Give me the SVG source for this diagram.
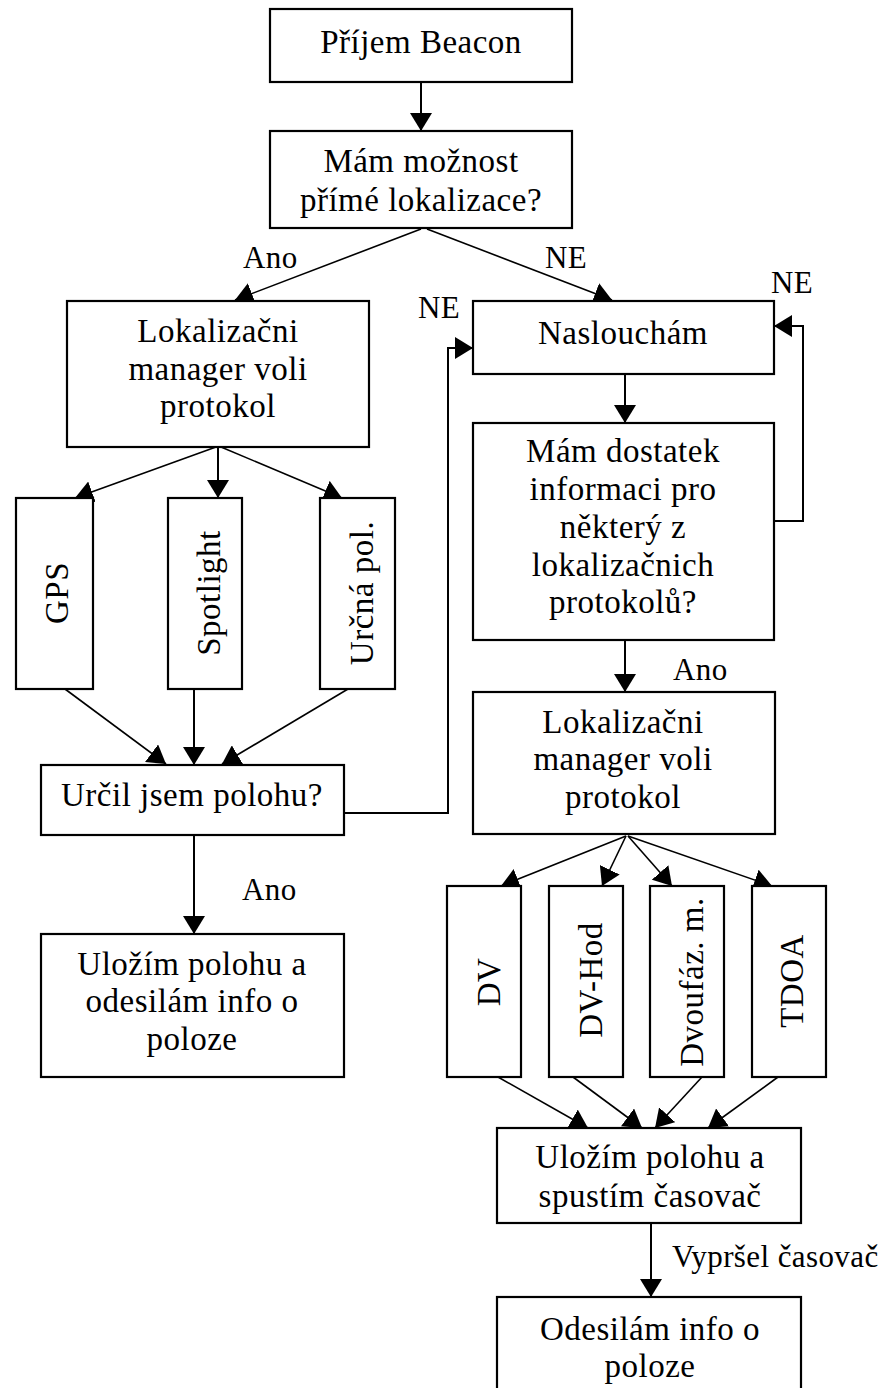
<svg xmlns="http://www.w3.org/2000/svg" width="883" height="1388" viewBox="0 0 883 1388">
<style>
.box{fill:#fff;stroke:#000;stroke-width:2.2}
.t{font-family:"Liberation Serif","Times New Roman",serif;font-size:33px;letter-spacing:0.5px;fill:#000;text-anchor:middle}
.lbl{font-family:"Liberation Serif","Times New Roman",serif;font-size:31px;letter-spacing:0.4px;fill:#000}
.c{fill:none;stroke:#000;stroke-width:2}
.d{fill:none;stroke:#000;stroke-width:1.6}
</style>
<defs>
<marker id="ah" viewBox="0 0 18 22" markerWidth="18" markerHeight="22" refX="18" refY="11" orient="auto" markerUnits="userSpaceOnUse">
<path d="M0,0 L18,11 L0,22 z" fill="#000"/>
</marker>
</defs>
<rect width="883" height="1388" fill="#fff"/>
<g id="connectors">
<path class="c" d="M421,82 L421,131" marker-end="url(#ah)"/>
<path class="d" d="M421,229 L235,300" marker-end="url(#ah)"/>
<path class="d" d="M427,229 L612,300" marker-end="url(#ah)"/>
<path class="d" d="M216,447 L75,498" marker-end="url(#ah)"/>
<path class="c" d="M218,447 L218,498" marker-end="url(#ah)"/>
<path class="d" d="M221,447 L342,498" marker-end="url(#ah)"/>
<path class="d" d="M65,689 L166,764" marker-end="url(#ah)"/>
<path class="c" d="M194,689 L194,765" marker-end="url(#ah)"/>
<path class="d" d="M348,689 L222,764" marker-end="url(#ah)"/>
<path class="c" d="M344,813 L448,813 L448,348 L473,348" marker-end="url(#ah)"/>
<path class="c" d="M194,835 L194,934" marker-end="url(#ah)"/>
<path class="c" d="M625,374 L625,423" marker-end="url(#ah)"/>
<path class="c" d="M774,521 L803,521 L803,326 L774,326" marker-end="url(#ah)"/>
<path class="c" d="M625,640 L625,692" marker-end="url(#ah)"/>
<path class="d" d="M626,836 L501,886" marker-end="url(#ah)"/>
<path class="d" d="M626,836 L602,886" marker-end="url(#ah)"/>
<path class="d" d="M628,836 L672,886" marker-end="url(#ah)"/>
<path class="d" d="M628,836 L772,886" marker-end="url(#ah)"/>
<path class="d" d="M498,1077 L588,1128" marker-end="url(#ah)"/>
<path class="d" d="M573,1077 L642,1128" marker-end="url(#ah)"/>
<path class="d" d="M702,1077 L655,1128" marker-end="url(#ah)"/>
<path class="d" d="M778,1077 L708,1128" marker-end="url(#ah)"/>
<path class="c" d="M651,1223 L651,1297" marker-end="url(#ah)"/>
</g>
<g id="labels">
<text class="lbl" x="243" y="268">Ano</text>
<text class="lbl" x="545" y="268">NE</text>
<text class="lbl" x="418" y="318">NE</text>
<text class="lbl" x="771" y="293">NE</text>
<text class="lbl" x="673" y="680">Ano</text>
<text class="lbl" x="242" y="900">Ano</text>
<text class="lbl" x="672" y="1267">Vypršel časovač</text>
</g>
<g id="n1"><rect class="box" x="270" y="9" width="302" height="73"/><text class="t" x="421" y="53">Příjem Beacon</text></g>
<g id="n2"><rect class="box" x="270" y="131" width="302" height="97"/><text class="t" x="421" y="172">Mám možnost</text><text class="t" x="421" y="211">přímé lokalizace?</text></g>
<g id="n3"><rect class="box" x="67" y="301" width="302" height="146"/><text class="t" x="218" y="342">Lokalizačni</text><text class="t" x="218" y="380">manager voli</text><text class="t" x="218" y="417">protokol</text></g>
<g id="n4"><rect class="box" x="16" y="498" width="77" height="191"/><text class="t" transform="translate(68,593) rotate(-90)">GPS</text></g>
<g id="n5"><rect class="box" x="168" y="498" width="74" height="191"/><text class="t" transform="translate(220,593) rotate(-90)">Spotlight</text></g>
<g id="n6"><rect class="box" x="320" y="498" width="75" height="191"/><text class="t" transform="translate(373,593) rotate(-90)">Určná pol.</text></g>
<g id="n7"><rect class="box" x="41" y="765" width="303" height="70"/><text class="t" x="192" y="806">Určil jsem polohu?</text></g>
<g id="n8"><rect class="box" x="41" y="934" width="303" height="143"/><text class="t" x="192" y="975">Uložím polohu a</text><text class="t" x="192" y="1012">odesilám info o</text><text class="t" x="192" y="1050">poloze</text></g>
<g id="n9"><rect class="box" x="473" y="301" width="301" height="73"/><text class="t" x="623" y="344">Naslouchám</text></g>
<g id="n10"><rect class="box" x="473" y="423" width="301" height="217"/><text class="t" x="623" y="462">Mám dostatek</text><text class="t" x="623" y="500">informaci pro</text><text class="t" x="623" y="538">některý z</text><text class="t" x="623" y="576">lokalizačnich</text><text class="t" x="623" y="613">protokolů?</text></g>
<g id="n11"><rect class="box" x="473" y="692" width="302" height="142"/><text class="t" x="623" y="733">Lokalizačni</text><text class="t" x="623" y="770">manager voli</text><text class="t" x="623" y="808">protokol</text></g>
<g id="n12"><rect class="box" x="447" y="886" width="74" height="191"/><text class="t" transform="translate(500,982) rotate(-90)">DV</text></g>
<g id="n13"><rect class="box" x="549" y="886" width="74" height="191"/><text class="t" transform="translate(602,980) rotate(-90)">DV-Hod</text></g>
<g id="n14"><rect class="box" x="650" y="886" width="74" height="191"/><text class="t" transform="translate(703,982) rotate(-90)">Dvoufáz. m.</text></g>
<g id="n15"><rect class="box" x="752" y="886" width="74" height="191"/><text class="t" transform="translate(803,981) rotate(-90)">TDOA</text></g>
<g id="n16"><rect class="box" x="497" y="1128" width="304" height="95"/><text class="t" x="650" y="1168">Uložím polohu a</text><text class="t" x="650" y="1207">spustím časovač</text></g>
<g id="n17"><rect class="box" x="497" y="1297" width="304" height="100"/><text class="t" x="650" y="1340">Odesilám info o</text><text class="t" x="650" y="1377">poloze</text></g>
</svg>
